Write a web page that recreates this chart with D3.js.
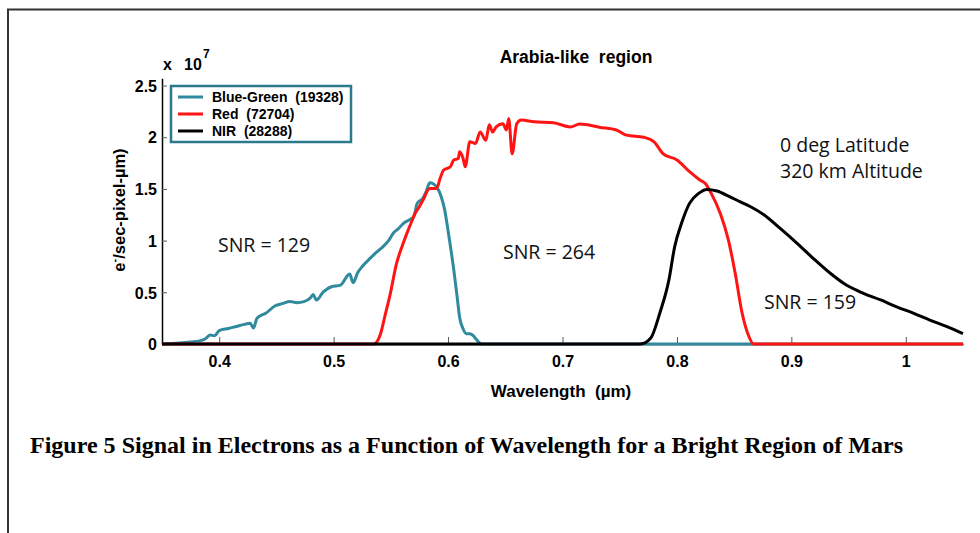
<!DOCTYPE html>
<html><head><meta charset="utf-8">
<script src="https://cdn.jsdelivr.net/npm/d3@7/dist/d3.min.js"></script>
<style>body{margin:0;background:#fff}svg{display:block}</style>
</head><body>
<svg id="c" width="980" height="533"></svg>
<script>
// Data (values in units of 1e7 e-/sec-pixel-µm)
const xTicks = [0.4, 0.5, 0.6, 0.7, 0.8, 0.9, 1.0];
const xTickLabels = ["0.4", "0.5", "0.6", "0.7", "0.8", "0.9", "1"];
const yTicks = [0, 0.5, 1, 1.5, 2, 2.5];
const yTickLabels = ["0", "0.5", "1", "1.5", "2", "2.5"];
const seriesNames = ["Blue-Green  (19328)", "Red  (72704)", "NIR  (28288)"];
const seriesColors = ["#2f8a9d", "#ff1414", "#000000"];

const bgWave = [0.35,0.365,0.375,0.383,0.388,0.392,0.396,0.40,0.408,0.415,0.422,0.427,0.430,0.433,0.441,0.449,0.455,0.462,0.468,0.474,0.48,0.482,0.485,0.491,0.498,0.506,0.514,0.517,0.521,0.525,0.532,0.538,0.543,0.548,0.552,0.557,0.561,0.566,0.570,0.573,0.578,0.581,0.584,0.587,0.590,0.594,0.597,0.599,0.602,0.605,0.608,0.610,0.613,0.616,0.619,0.622,0.625,0.628,0.63,1.05];
const bgVal  = [0,0.01,0.02,0.03,0.05,0.087,0.08,0.13,0.15,0.17,0.19,0.20,0.155,0.25,0.30,0.37,0.39,0.41,0.40,0.41,0.45,0.48,0.425,0.505,0.554,0.57,0.677,0.593,0.69,0.75,0.83,0.893,0.94,1.0,1.07,1.12,1.167,1.2,1.23,1.36,1.41,1.48,1.56,1.55,1.52,1.425,1.3,1.167,0.95,0.716,0.45,0.264,0.15,0.10,0.10,0.08,0.04,0.007,0,0];

const redWave = [0.35,0.535,0.541,0.545,0.549,0.555,0.56,0.564,0.568,0.571,0.575,0.578,0.584,0.59,0.593,0.596,0.602,0.605,0.609,0.61,0.613,0.615,0.619,0.624,0.628,0.633,0.636,0.639,0.642,0.648,0.651,0.653,0.656,0.660,0.664,0.675,0.692,0.707,0.715,0.733,0.747,0.756,0.771,0.780,0.788,0.8,0.811,0.82,0.825,0.83,0.838,0.845,0.851,0.857,0.863,0.867,1.05];
const redVal  = [0,0,0.1,0.28,0.46,0.78,0.95,1.07,1.18,1.26,1.33,1.39,1.505,1.505,1.6,1.68,1.715,1.78,1.795,1.86,1.8,1.715,1.956,1.94,2.05,1.97,2.12,2.05,2.10,2.13,2.07,2.18,1.84,2.13,2.166,2.15,2.14,2.10,2.127,2.095,2.07,2.02,2.0,1.956,1.84,1.78,1.667,1.586,1.55,1.457,1.26,1.005,0.68,0.297,0.07,0,0];

const nirWave = [0.35,0.768,0.777,0.785,0.793,0.798,0.804,0.811,0.819,0.826,0.835,0.846,0.855,0.864,0.876,0.890,0.905,0.919,0.934,0.948,0.963,0.978,0.992,1.007,1.021,1.036,1.05];
const nirVal  = [0,0,0.055,0.297,0.62,0.94,1.167,1.36,1.457,1.495,1.48,1.425,1.377,1.33,1.25,1.12,0.974,0.829,0.684,0.57,0.49,0.426,0.36,0.297,0.232,0.167,0.10];

const svg = d3.select("#c");
const x = d3.scaleLinear().domain([0.35, 1.05]).range([162, 963]);
const y = d3.scaleLinear().domain([0, 2.57]).range([344, 78.3]);

// frame
svg.append("path").attr("d","M8,533 L8,9.5 L980,9.5").attr("fill","none").attr("stroke","#333").attr("stroke-width",2);

const arial = "'Liberation Sans', Arial, sans-serif";

// axes
const xAxis = d3.axisBottom(x).tickValues(xTicks).tickSize(-7).tickSizeOuter(0).tickFormat((d,i)=>xTickLabels[i]);
const gx = svg.append("g").attr("transform","translate(0,344)").call(xAxis);
gx.select(".domain").attr("stroke","#000").attr("stroke-width",1.5);
gx.selectAll(".tick line").attr("stroke","#555").attr("stroke-width",1);
gx.selectAll(".tick text").attr("dy",0).attr("y",23).attr("font-family",arial).attr("font-weight","bold").attr("font-size",16).attr("fill","#000");

const yAxis = d3.axisLeft(y).tickValues(yTicks).tickSize(-5).tickSizeOuter(0).tickFormat((d,i)=>yTickLabels[i]);
const gy = svg.append("g").attr("transform","translate(162,0)").call(yAxis);
gy.select(".domain").attr("stroke","#000").attr("stroke-width",1.5);
gy.selectAll(".tick line").attr("stroke","#555").attr("stroke-width",1);
gy.selectAll(".tick text").attr("x",-5).attr("dy","0.36em").attr("font-family",arial).attr("font-weight","bold").attr("font-size",16).attr("fill","#000");

// curves
const line = d3.line().x(d=>x(d[0])).y(d=>y(d[1])).curve(d3.curveMonotoneX);
const series = [
  d3.zip(bgWave, bgVal),
  d3.zip(redWave, redVal),
  d3.zip(nirWave, nirVal)
];
series.forEach((s,i)=>{
  svg.append("path").datum(s).attr("d",line).attr("fill","none")
    .attr("stroke",seriesColors[i]).attr("stroke-width",3).attr("stroke-linejoin","round");
});

// multiplier
svg.append("text").attr("x",163).attr("y",70).attr("font-family",arial).attr("font-weight","bold").attr("font-size",16).text("x");
svg.append("text").attr("x",184).attr("y",70).attr("font-family",arial).attr("font-weight","bold").attr("font-size",16).text("10");
svg.append("text").attr("x",203).attr("y",58).attr("font-family",arial).attr("font-weight","bold").attr("font-size",12).text("7");

// title
svg.append("text").attr("x",576).attr("y",63).attr("text-anchor","middle").attr("font-family",arial).attr("font-weight","bold").attr("font-size",17.5).attr("xml:space","preserve").text("Arabia-like  region");

// axis labels
svg.append("text").attr("x",561).attr("y",397).attr("text-anchor","middle").attr("font-family",arial).attr("font-weight","bold").attr("font-size",17).attr("xml:space","preserve").text("Wavelength  (\u00b5m)");
const yl = svg.append("text").attr("transform","translate(125,210) rotate(-90)").attr("text-anchor","middle").attr("font-family",arial).attr("font-weight","bold").attr("font-size",16.5);
yl.append("tspan").text("e");
yl.append("tspan").attr("dy",-7).attr("font-size",11).text("-");
yl.append("tspan").attr("dy",7).text("/sec-pixel-\u00b5m)");

// legend
const lg = svg.append("g");
lg.append("rect").attr("x",171).attr("y",86).attr("width",180).attr("height",56).attr("fill","#fff").attr("stroke","#2a7a8c").attr("stroke-width",2.5);
seriesNames.forEach((n,i)=>{
  const yy = 97 + i*17;
  lg.append("line").attr("x1",178).attr("x2",203).attr("y1",yy).attr("y2",yy).attr("stroke",seriesColors[i]).attr("stroke-width",3);
  lg.append("text").attr("x",212).attr("y",yy+5).attr("font-family",arial).attr("font-weight","bold").attr("font-size",14).attr("xml:space","preserve").text(n);
});

// annotations
const myr = "'Open Sans', 'Noto Sans', sans-serif";
const ann = [["0 deg Latitude",780,152],["320 km Altitude",780,178],["SNR = 129",218,252],["SNR = 264",503,259],["SNR = 159",764,309]];
ann.forEach(a=>{
  svg.append("text").attr("x",a[1]).attr("y",a[2]).attr("font-family",myr).attr("font-size",19.5).attr("fill","#111").text(a[0]);
});

// caption
svg.append("text").attr("x",30).attr("y",453).attr("font-family","'Liberation Serif','Times New Roman',serif").attr("font-weight","bold").attr("font-size",24)
  .attr("textLength",873).attr("lengthAdjust","spacingAndGlyphs")
  .text("Figure 5 Signal in Electrons as a Function of Wavelength for a Bright Region of Mars");
</script>
</body></html>
